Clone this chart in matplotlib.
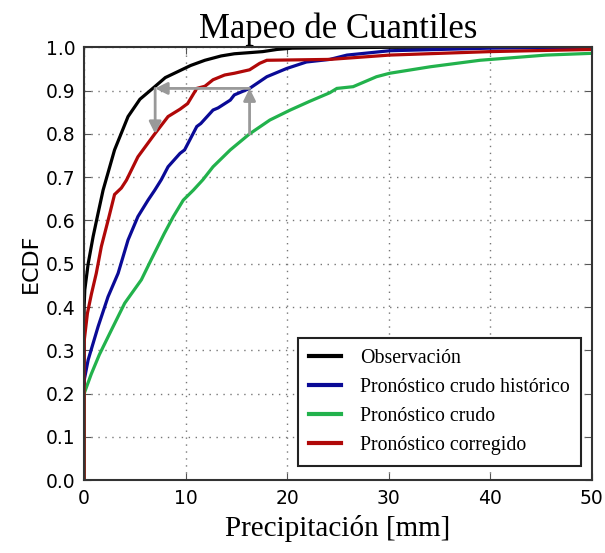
import matplotlib
matplotlib.use("Agg")
import matplotlib.pyplot as plt

# ---- data ----
obs_x = [0, 0, 0.07, 0.4, 0.89, 1.38, 1.87, 3.0, 4.33, 5.5, 6.96, 8.0, 9.25, 10.5, 11.9, 13.5, 14.8, 16.5, 17.6, 19.0, 20.5, 25, 30, 40, 50]
obs_y = [0, 0.40, 0.44, 0.50, 0.563, 0.617, 0.67, 0.763, 0.84, 0.88, 0.909, 0.93, 0.944, 0.958, 0.97, 0.98, 0.985, 0.988, 0.99, 0.995, 0.998, 0.999, 1.0, 1.0, 1.0]

hist_x = [0, 0, 0.4, 1.38, 2.36, 3.35, 4.33, 5.3, 6.3, 6.96, 7.6, 8.27, 9.45, 9.9, 11.1, 11.5, 12.7, 13.2, 14.4, 14.8, 16.3, 18.0, 19.95, 21.9, 24.2, 25.9, 30.1, 35, 40, 50]
hist_y = [0, 0.23, 0.278, 0.355, 0.424, 0.478, 0.555, 0.609, 0.647, 0.67, 0.694, 0.724, 0.755, 0.763, 0.817, 0.824, 0.855, 0.86, 0.878, 0.89, 0.905, 0.932, 0.951, 0.966, 0.972, 0.982, 0.992, 0.995, 0.998, 1.0]

raw_x = [0, 0, 0.7, 1.5, 2.69, 4.0, 5.64, 6.6, 7.9, 8.79, 9.77, 10.76, 11.7, 12.7, 14.4, 16.3, 18.3, 20.3, 22.2, 24.2, 24.9, 26.5, 28.8, 30.1, 34.1, 39, 45.5, 50]
raw_y = [0, 0.20, 0.245, 0.29, 0.347, 0.409, 0.463, 0.509, 0.57, 0.609, 0.647, 0.67, 0.694, 0.724, 0.763, 0.80, 0.832, 0.855, 0.875, 0.895, 0.905, 0.909, 0.932, 0.94, 0.955, 0.97, 0.982, 0.986]

corr_x = [0, 0, 0.33, 0.72, 1.2, 1.7, 2.36, 3.0, 3.67, 4.17, 5.3, 6.96, 8.27, 9.45, 10.2, 11.1, 11.9, 12.7, 13.85, 14.8, 16.3, 17.3, 18.0, 24.2, 30.1, 40, 50]
corr_y = [0, 0.32, 0.386, 0.43, 0.478, 0.54, 0.60, 0.66, 0.675, 0.693, 0.747, 0.80, 0.84, 0.857, 0.87, 0.905, 0.91, 0.925, 0.936, 0.94, 0.948, 0.963, 0.97, 0.972, 0.982, 0.99, 0.995]

labels = ["Observación", "Pronóstico crudo histórico", "Pronóstico crudo", "Pronóstico corregido"]
colors = ["#000000", "#0a0a96", "#22b24c", "#b00808"]

# quantile-mapping arrow path: raw -> historic (up), historic -> obs (left), obs -> corrected (down)
qm_x_hist = 16.3
qm_x_obs = 7.0
qm_y_low = 0.80
qm_y_high = 0.905

xticks = [0, 10, 20, 30, 40, 50]
yticks = [0.0, 0.1, 0.2, 0.3, 0.4, 0.5, 0.6, 0.7, 0.8, 0.9, 1.0]

# ---- figure ----
fig = plt.figure(figsize=(6.05, 5.53), dpi=100)
ax = fig.add_axes([0.139, 0.1315, 0.839, 0.783])

series = [(obs_x, obs_y), (hist_x, hist_y), (raw_x, raw_y), (corr_x, corr_y)]
for (xs, ys), lab, c in zip(series, labels, colors):
    ax.plot(xs, ys, color=c, lw=2.3, label=lab, solid_joinstyle="miter")

arrow_kw = dict(arrowstyle="-|>", color="#999999", lw=2, mutation_scale=18,
                shrinkA=0, shrinkB=0)
ax.annotate("", xy=(qm_x_hist, qm_y_high), xytext=(qm_x_hist, qm_y_low), arrowprops=arrow_kw)
ax.annotate("", xy=(qm_x_obs, qm_y_high), xytext=(qm_x_hist, qm_y_high), arrowprops=arrow_kw)
ax.annotate("", xy=(qm_x_obs, qm_y_low), xytext=(qm_x_obs, qm_y_high), arrowprops=arrow_kw)

ax.set_xlim(0, 50)
ax.set_ylim(0, 1.0)
ax.set_xticks(xticks)
ax.set_yticks(yticks)
ax.set_yticklabels([f"{v:.1f}" for v in yticks])
ax.tick_params(direction="in", top=True, right=True, length=5, labelsize=13.5,
               color="#555555", pad=6)
ax.grid(True, linestyle=(0, (1, 4)), color="#777777", lw=1)
for s in ax.spines.values():
    s.set_linewidth(1.5)
    s.set_color("#333333")

ax.set_title("Mapeo de Cuantiles", family="Liberation Serif", fontsize=25, pad=7)
ax.set_xlabel("Precipitación [mm]", family="Liberation Serif", fontsize=21, labelpad=5)
ax.set_ylabel("ECDF", fontsize=16, labelpad=4)

leg = ax.legend(loc="lower right", bbox_to_anchor=(0.991, 0.02), prop={"family": "Liberation Serif", "size": 14.3},
                fancybox=False, edgecolor="#222222", framealpha=1, handlelength=1.6,
                borderpad=0.55, labelspacing=0.5, handletextpad=1.0, borderaxespad=0.3)
leg.get_frame().set_linewidth(1.5)
for line in leg.get_lines():
    line.set_linewidth(3)

fig.savefig("out.png", dpi=100)
